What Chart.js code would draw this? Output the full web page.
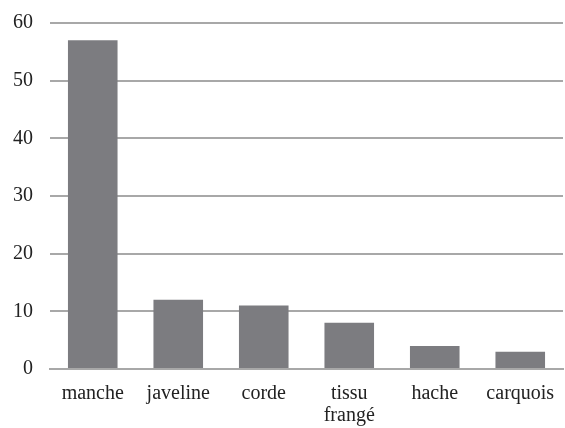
<!DOCTYPE html>
<html>
<head>
<meta charset="utf-8">
<script src="https://cdn.jsdelivr.net/npm/chart.js@4/dist/chart.umd.min.js"></script>
<style>
  html, body { margin: 0; padding: 0; background: #fff; }
  #wrap { width: 565px; height: 428px; }
</style>
</head>
<body>
<div id="wrap"><canvas id="myChart"></canvas></div>
<script>
const categories = ['manche', 'javeline', 'corde', ['tissu', 'frangé'], 'hache', 'carquois'];
const counts = [57, 12, 11, 8, 4, 3];
const yTicks = [0, 10, 20, 30, 40, 50, 60];

const ctx = document.getElementById('myChart').getContext('2d');

const myChart = new Chart(ctx, {
    type: 'bar',
    data: {
        labels: categories,
        datasets: [{
            data: counts,
            backgroundColor: '#7c7c80',
            borderWidth: 0,
            categoryPercentage: 1,
            barPercentage: 0.58
        }]
    },
    options: {
        responsive: true,
        maintainAspectRatio: false,
        animation: false,
        layout: { padding: { top: 23, right: 2, left: 0, bottom: 0 } },
        plugins: {
            legend: { display: false },
            tooltip: { enabled: false }
        },
        scales: {
            x: {
                afterFit: axis => { axis.height = 59; axis.paddingLeft = 0; axis.paddingRight = 0; },
                grid: { display: false, drawTicks: false },
                border: { color: '#a8a8a8', width: 2 },
                ticks: {
                    color: '#222',
                    padding: 14,
                    maxRotation: 0,
                    font: { family: 'Liberation Serif', size: 20, lineHeight: 1.1 }
                }
            },
            y: {
                min: 0,
                max: 60,
                afterBuildTicks: axis => { axis.ticks = yTicks.map(v => ({ value: v })); },
                afterFit: axis => { axis.width = 50; axis.paddingTop = 0; axis.paddingBottom = 0; },
                grid: { color: '#a8a8a8', lineWidth: 2, drawTicks: false },
                border: { display: false },
                ticks: {
                    color: '#222',
                    padding: 17,
                    font: { family: 'Liberation Serif', size: 20 }
                }
            }
        }
    }
});
</script>
</body>
</html>
